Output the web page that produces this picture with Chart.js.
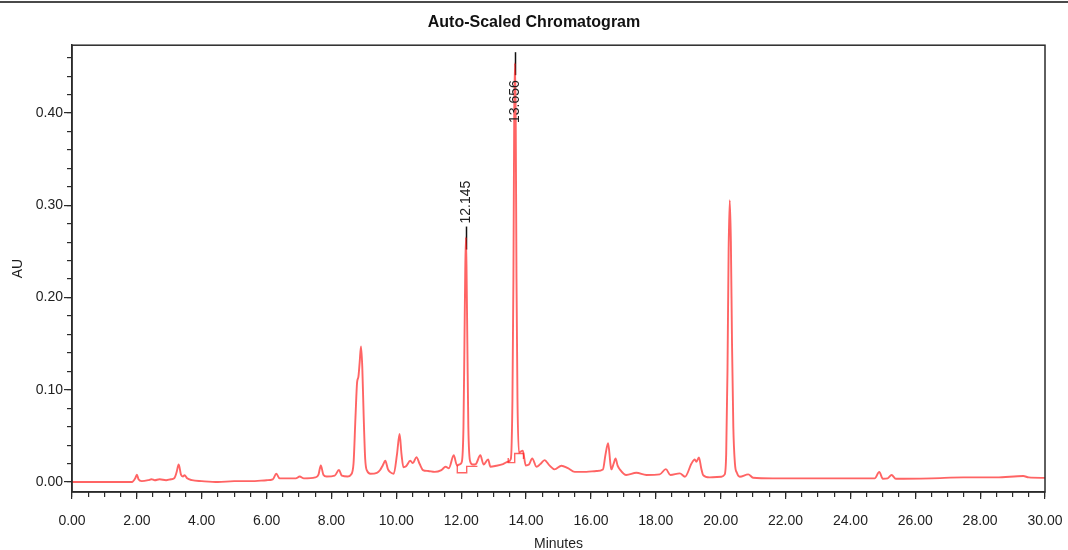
<!DOCTYPE html>
<html>
<head>
<meta charset="utf-8">
<script src="https://cdn.jsdelivr.net/npm/chart.js@4.4.1/dist/chart.umd.min.js"></script>
<style>
  html, body { margin: 0; padding: 0; background: #fff; overflow: hidden; }
  #wrap { position: relative; width: 1068px; height: 550px; }
  #c { position: absolute; left: 0; top: 0; }
  #topRule { position: absolute; left: 0; top: 1px; width: 1068px; height: 2px; background: #4a4a4a; }
</style>
</head>
<body>
<div id="wrap">
  <canvas id="c" width="1068" height="550"></canvas>
  <div id="topRule"></div>
</div>
<script>
// Detector trace: retention time (min) and absorbance (AU)
const retentionTimes = [
  0.00, 0.50, 1.00, 1.50, 1.85, 1.95, 2.00, 2.05, 2.15, 2.35, 2.45, 2.55, 2.70, 2.90,
  3.05, 3.15, 3.22, 3.29, 3.36, 3.42, 3.47, 3.55, 3.70, 4.00, 4.50, 5.00, 5.50, 6.00,
  6.19, 6.30, 6.40, 6.60, 6.90, 7.02, 7.15, 7.50, 7.60, 7.67, 7.75, 7.85, 8.10, 8.23,
  8.32, 8.50, 8.60, 8.68, 8.74, 8.79, 8.83, 8.87, 8.91, 8.95, 8.99, 9.04, 9.10, 9.20,
  9.40, 9.50, 9.58, 9.66, 9.74, 9.80, 9.92, 10.02, 10.10, 10.16, 10.22, 10.30, 10.43,
  10.51, 10.62, 10.72, 10.82, 10.98, 11.18, 11.39, 11.52, 11.62, 11.77, 11.87, 11.97,
  12.02, 12.07, 12.10, 12.125, 12.145, 12.165, 12.19, 12.22, 12.28, 12.35, 12.45, 12.59,
  12.69, 12.83, 12.90, 13.08, 13.29, 13.44, 13.53, 13.58, 13.61, 13.635, 13.656, 13.68,
  13.705, 13.735, 13.78, 13.90, 13.99, 14.09, 14.19, 14.32, 14.44, 14.57, 14.72, 14.88,
  15.09, 15.29, 15.50, 15.86, 16.17, 16.37, 16.45, 16.53, 16.60, 16.63, 16.70, 16.76,
  16.82, 16.89, 17.09, 17.40, 17.71, 18.12, 18.31, 18.45, 18.74, 18.90, 19.10, 19.20,
  19.25, 19.33, 19.40, 19.46, 19.66, 20.02, 20.12, 20.17, 20.21, 20.245, 20.28, 20.315,
  20.35, 20.39, 20.44, 20.50, 20.59, 20.85, 21.00, 21.60, 22.50, 23.70, 24.75, 24.89,
  25.00, 25.15, 25.27, 25.40, 26.50, 27.48, 28.50, 29.33, 29.50, 30.00
];
const absorbance = [
  0.000, 0.000, 0.000, 0.000, 0.000, 0.004, 0.008, 0.003, 0.001, 0.002, 0.003, 0.002, 0.003, 0.002,
  0.003, 0.004, 0.010, 0.019, 0.008, 0.006, 0.0075, 0.004, 0.002, 0.001, 0.000, 0.001, 0.001, 0.002,
  0.003, 0.009, 0.004, 0.004, 0.004, 0.006, 0.004, 0.005, 0.008, 0.018, 0.008, 0.006, 0.007, 0.013,
  0.007, 0.006, 0.008, 0.020, 0.070, 0.108, 0.114, 0.130, 0.147, 0.125, 0.075, 0.025, 0.012, 0.009,
  0.010, 0.013, 0.018, 0.023, 0.014, 0.011, 0.009, 0.030, 0.052, 0.030, 0.016, 0.017, 0.023,
  0.0205, 0.027, 0.0195, 0.013, 0.012, 0.011, 0.013, 0.0166, 0.015, 0.029, 0.018, 0.0195,
  0.022, 0.060, 0.150, 0.230, 0.265, 0.230, 0.150, 0.060, 0.022, 0.019, 0.0195, 0.029,
  0.019, 0.0246, 0.0166, 0.0176, 0.0195, 0.022, 0.025, 0.090, 0.220, 0.400, 0.454, 0.400,
  0.220, 0.090, 0.032, 0.034, 0.018, 0.019, 0.0257, 0.0166, 0.0195, 0.0238, 0.018, 0.0137,
  0.0177, 0.015, 0.011, 0.011, 0.012, 0.0137, 0.030, 0.042, 0.020, 0.0137, 0.020, 0.0257,
  0.018, 0.0137, 0.0076, 0.010, 0.0076, 0.0083, 0.014, 0.0076, 0.0094, 0.0058, 0.020, 0.0246,
  0.022, 0.0267, 0.015, 0.0076, 0.005, 0.0058, 0.008, 0.030, 0.120, 0.250, 0.3055, 0.260,
  0.150, 0.060, 0.020, 0.010, 0.0058, 0.0083, 0.0047, 0.004, 0.004, 0.004, 0.004, 0.011,
  0.0035, 0.004, 0.0076, 0.0035, 0.004, 0.005, 0.005, 0.0065, 0.005, 0.0045
];

// Integration baselines and drop lines under the two labelled peaks (null breaks a segment)
const baselineTimes  = [11.88, 11.88, 12.17, 12.17, 12.50, 12.50, 13.45, 13.45, 13.65, 13.65, 13.92, 13.92];
const baselineValues = [0.018, 0.010, 0.010, 0.017, 0.017, null, 0.026, 0.021, 0.021, 0.031, 0.031, 0.025];

// Labelled peaks (retention times)
const peakTimes  = [12.145, 13.656];
const peakLabels = ['12.145', '13.656'];

// Axis ticks
const xMajorTicks = [0, 2, 4, 6, 8, 10, 12, 14, 16, 18, 20, 22, 24, 26, 28, 30];
const yMajorTicks = [0.0, 0.1, 0.2, 0.3, 0.4];
const xRange = [0, 30];
const yRange = [-0.0108, 0.4735];

const axisColor = '#2b2b2b';
const textColor = '#1e1e1e';
const traceColor = 'rgba(255, 20, 20, 0.66)';
const fontFamily = "'Liberation Sans', Arial, sans-serif";

// Box drawn round the plotting area
const framePlugin = {
  id: 'frame',
  afterDraw(chart) {
    const { ctx, chartArea: a } = chart;
    ctx.save();
    ctx.strokeStyle = axisColor;
    ctx.lineWidth = 1.5;
    ctx.strokeRect(a.left, a.top, a.right - a.left, a.bottom - a.top);
    ctx.restore();
  }
};

// Retention-time markers: a short black stroke through each apex and a vertical label
const peakMarkerPlugin = {
  id: 'peakMarkers',
  geometry(chart) {
    const xs = chart.scales.x, ys = chart.scales.y;
    return peakTimes.map((t, i) => {
      const idx = retentionTimes.indexOf(t);
      const apex = absorbance[idx];
      const px = xs.getPixelForValue(t);
      const py = ys.getPixelForValue(apex);
      return { px, top: py - 11, bottom: py + 12, text: peakLabels[i] };
    });
  },
  beforeDatasetsDraw(chart) {
    const ctx = chart.ctx;
    ctx.save();
    ctx.strokeStyle = '#111';
    ctx.lineWidth = 1.5;
    for (const g of this.geometry(chart)) {
      ctx.beginPath();
      ctx.moveTo(Math.round(g.px) + 0.5, g.top);
      ctx.lineTo(Math.round(g.px) + 0.5, g.bottom);
      ctx.stroke();
    }
    ctx.restore();
  },
  afterDatasetsDraw(chart) {
    const ctx = chart.ctx;
    const area = chart.chartArea;
    ctx.save();
    ctx.font = '14px ' + fontFamily;
    ctx.fillStyle = textColor;
    ctx.textBaseline = 'middle';
    for (const g of this.geometry(chart)) {
      const w = ctx.measureText(g.text).width;
      ctx.save();
      if (g.top - 3 - w > area.top + 2) {
        ctx.translate(g.px, g.top - 3);
        ctx.rotate(-Math.PI / 2);
        ctx.textAlign = 'left';
      } else {
        ctx.translate(g.px, g.bottom + 5);
        ctx.rotate(-Math.PI / 2);
        ctx.textAlign = 'right';
      }
      ctx.fillText(g.text, 0, 0);
      ctx.restore();
    }
    ctx.restore();
  }
};

const minorGrid = {
  display: true, drawOnChartArea: false, drawTicks: true,
  tickLength: 5, color: axisColor, lineWidth: 1.2
};
const majorGrid = {
  display: true, drawOnChartArea: false, drawTicks: true,
  color: axisColor, lineWidth: 1.2
};

new Chart(document.getElementById('c'), {
  type: 'line',
  data: {
    datasets: [
      {
        label: 'AU',
        data: retentionTimes.map((t, i) => ({ x: t, y: absorbance[i] })),
        borderColor: traceColor,
        borderWidth: 1.9,
        pointRadius: 0,
        cubicInterpolationMode: 'monotone',
        xAxisID: 'x',
        yAxisID: 'y'
      },
      {
        label: 'baseline',
        data: baselineTimes.map((t, i) => ({ x: t, y: baselineValues[i] })),
        borderColor: traceColor,
        borderWidth: 1.4,
        pointRadius: 0,
        tension: 0,
        spanGaps: false,
        xAxisID: 'x',
        yAxisID: 'y'
      }
    ]
  },
  options: {
    responsive: false,
    animation: false,
    devicePixelRatio: 1,
    events: [],
    layout: { padding: 0 },
    plugins: {
      legend: { display: false },
      tooltip: { enabled: false },
      title: {
        display: true,
        text: 'Auto-Scaled Chromatogram',
        color: '#111',
        font: { family: fontFamily, size: 16, weight: 'bold' },
        padding: { top: 13, bottom: 13 }
      }
    },
    scales: {
      xMinor: {
        type: 'linear', position: 'bottom', min: xRange[0], max: xRange[1],
        ticks: { display: false, stepSize: 0.5, includeBounds: false },
        grid: minorGrid,
        border: { display: false },
        afterFit(s) { s.height = 0; }
      },
      yMinor: {
        type: 'linear', position: 'left', min: yRange[0], max: yRange[1],
        ticks: { display: false, stepSize: 0.02, includeBounds: false },
        grid: minorGrid,
        border: { display: false },
        afterFit(s) { s.width = 0; }
      },
      x: {
        type: 'linear', position: 'bottom', min: xRange[0], max: xRange[1],
        afterBuildTicks(s) { s.ticks = xMajorTicks.map(v => ({ value: v })); },
        ticks: {
          autoSkip: false, maxRotation: 0, padding: 5,
          color: textColor, font: { family: fontFamily, size: 14, lineHeight: 2.42 },
          callback: v => Number(v).toFixed(2)
        },
        grid: Object.assign({}, majorGrid, { tickLength: 7 }),
        border: { display: true, color: axisColor, width: 1.5 },
        title: {
          display: true, text: 'Minutes', color: textColor,
          font: { family: fontFamily, size: 14 },
          padding: { top: 0, bottom: -3 }
        },
        afterFit(s) { s.height = 58; }
      },
      y: {
        type: 'linear', position: 'left', min: yRange[0], max: yRange[1],
        afterBuildTicks(s) { s.ticks = yMajorTicks.map(v => ({ value: v })); },
        ticks: {
          autoSkip: false, padding: 1,
          color: textColor, font: { family: fontFamily, size: 14 },
          callback: v => Number(v).toFixed(2)
        },
        grid: Object.assign({}, majorGrid, { tickLength: 8 }),
        border: { display: true, color: axisColor, width: 1.5 },
        title: {
          display: true, text: 'AU', color: textColor,
          font: { family: fontFamily, size: 14 },
          padding: { top: 10, bottom: 0 }
        },
        afterFit(s) { s.width = 72; }
      },
      // empty margin to the right of the plotting area
      rightMargin: {
        type: 'linear', position: 'right', display: true,
        ticks: { display: false },
        grid: { display: false },
        border: { display: false },
        afterFit(s) { s.width = 23; }
      }
    }
  },
  plugins: [framePlugin, peakMarkerPlugin]
});
</script>
</body>
</html>
